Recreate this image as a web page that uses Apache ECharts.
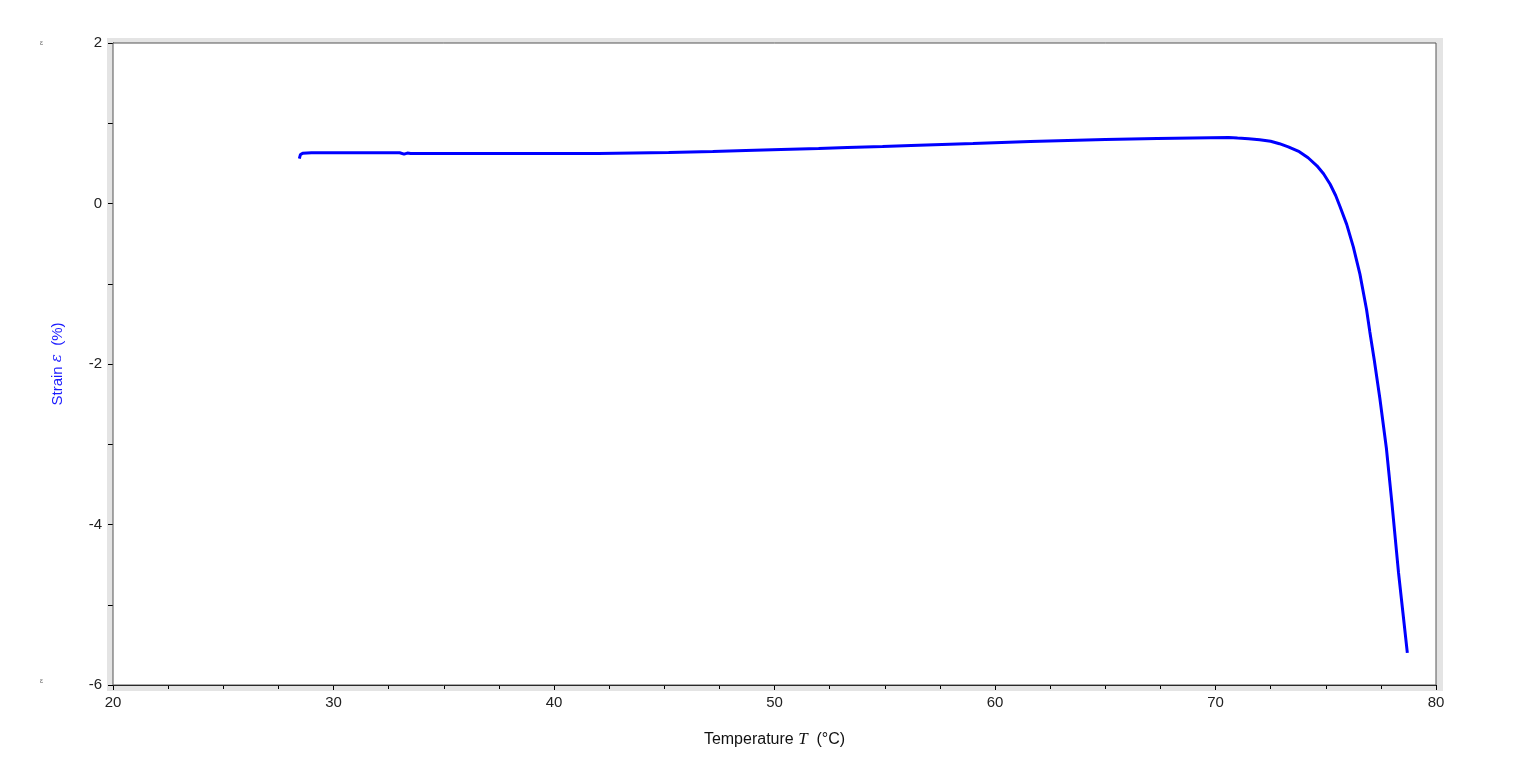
<!DOCTYPE html>
<html>
<head>
<meta charset="utf-8">
<script src="https://cdn.jsdelivr.net/npm/echarts@6/dist/echarts.min.js"></script>
<style>
html,body{margin:0;padding:0;background:#fff;}
#chart{width:1526px;height:782px;}
</style>
</head>
<body>
<div id="chart"></div>
<script>
// Temperature T (°C)
var temperature = [
  28.45, 28.5, 28.6, 29.0, 33.0, 33.2, 33.35, 33.5, 42.0, 42.05,
  45.2, 45.25, 47.2, 47.25, 48.7, 48.75, 50.3, 50.35, 52.0, 52.05,
  53.3, 53.35, 54.9, 54.95, 56.2, 56.25, 57.6, 57.65, 59.0, 59.05,
  60.3, 60.35, 61.6, 61.65, 63.3, 63.35, 65.0, 65.05, 67.35, 67.4,
  70.6, 71.0, 71.5, 72.0, 72.5, 72.9, 73.3, 73.8, 74.2, 74.6,
  74.9, 75.2, 75.45, 75.65, 75.95, 76.25, 76.55, 76.85, 77.0, 77.2,
  77.45, 77.75, 78.0, 78.3, 78.5, 78.7
];
// Strain ε (%)
var strain = [
  0.56, 0.61, 0.625, 0.632, 0.632, 0.615, 0.628, 0.622, 0.622, 0.635,
  0.635, 0.648, 0.648, 0.66, 0.66, 0.672, 0.672, 0.685, 0.685, 0.697,
  0.697, 0.71, 0.71, 0.722, 0.722, 0.735, 0.735, 0.747, 0.747, 0.76,
  0.76, 0.772, 0.772, 0.785, 0.785, 0.797, 0.797, 0.81, 0.81, 0.822,
  0.822, 0.815, 0.808, 0.795, 0.775, 0.745, 0.705, 0.645, 0.57, 0.47,
  0.37, 0.24, 0.1, -0.04, -0.26, -0.54, -0.88, -1.32, -1.6, -1.95,
  -2.42, -3.05, -3.73, -4.6, -5.1, -5.6
];
var xTicks = { min: 20, max: 80, interval: 10 };
var yTicks = { min: -6, max: 2, interval: 2 };

var points = temperature.map(function (t, i) { return [t, strain[i]]; });

var chart = echarts.init(document.getElementById('chart'), null, { renderer: 'canvas' });
var font = '"Liberation Sans", Arial, sans-serif';
chart.setOption({
  animation: false,
  backgroundColor: '#ffffff',
  grid: {
    left: 113, right: 90, top: 43, bottom: 97,
    show: true, backgroundColor: '#ffffff', borderColor: '#555555', borderWidth: 1, z: 1
  },
  graphic: [
    { type: 'rect', z: -100, zlevel: 0, silent: true,
      shape: { x: 107, y: 38, width: 1336, height: 653 },
      style: { fill: '#e4e4e4' } },
    { type: 'text', left: 40, top: 40, silent: true,
      style: { text: 'ε', font: '7px "Liberation Sans"', fill: '#666' } },
    { type: 'text', left: 40, top: 678, silent: true,
      style: { text: 'ε', font: '7px "Liberation Sans"', fill: '#666' } }
  ],
  xAxis: {
    type: 'value',
    min: xTicks.min, max: xTicks.max, interval: xTicks.interval,
    name: '{n|Temperature }{i|T}{n|  (°C)}',
    nameLocation: 'middle', nameGap: 46,
    nameTextStyle: {
      rich: {
        n: { fontFamily: font, fontSize: 16, color: '#111' },
        i: { fontFamily: '"Liberation Serif", serif', fontStyle: 'italic', fontSize: 17, color: '#111' }
      }
    },
    axisLine: { show: true, onZero: false, lineStyle: { color: '#000', width: 1 } },
    axisTick: { show: true, inside: false, length: 5, lineStyle: { color: '#000' } },
    minorTick: { show: true, splitNumber: 4, length: 4, lineStyle: { color: '#000' } },
    axisLabel: { fontFamily: font, fontSize: 15, color: '#222', margin: 10 },
    splitLine: { show: false }
  },
  yAxis: {
    type: 'value',
    min: yTicks.min, max: yTicks.max, interval: yTicks.interval,
    name: '{n|Strain }{i|ε}{n|  (%)}',
    nameLocation: 'middle', nameGap: 48, nameRotate: 90,
    nameTextStyle: {
      rich: {
        n: { fontFamily: font, fontSize: 15, color: '#1a1aff' },
        i: { fontFamily: '"DejaVu Serif", "Liberation Serif", serif', fontStyle: 'italic', fontSize: 15, color: '#1a1aff' }
      }
    },
    axisLine: { show: true, onZero: false, lineStyle: { color: '#000', width: 1 } },
    axisTick: { show: true, inside: false, length: 5, lineStyle: { color: '#000' } },
    minorTick: { show: true, splitNumber: 2, length: 5, lineStyle: { color: '#000' } },
    axisLabel: { fontFamily: font, fontSize: 15, color: '#222', margin: 11 },
    splitLine: { show: false }
  },
  series: [{
    type: 'line',
    data: points,
    showSymbol: false,
    symbol: 'none',
    lineStyle: { color: '#0000ff', width: 3 },
    z: 5
  }]
});
</script>
</body>
</html>
